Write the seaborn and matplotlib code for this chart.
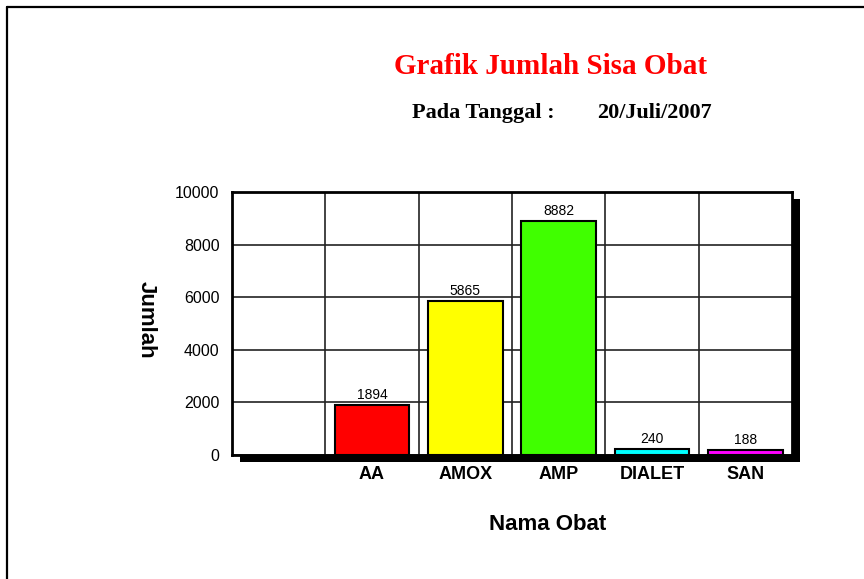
import numpy as np
import pandas as pd
import seaborn as sns
import matplotlib.pyplot as plt
from matplotlib.patches import Rectangle
from matplotlib.lines import Line2D

# data
obat = [" ", "AA", "AMOX", "AMP", "DIALET", "SAN"]
jumlah = [0, 1894, 5865, 8882, 240, 188]
warna = ["#ffffff", "#ff0000", "#ffff00", "#40ff00", "#00ffff", "#ff00ff"]

sns.set_style("white")
plt.rcParams['font.family'] = ['Liberation Sans', 'DejaVu Sans']
plt.rcParams['text.color'] = 'black'
plt.rcParams['xtick.color'] = 'black'
plt.rcParams['ytick.color'] = 'black'

W, H = 864, 579
fig = plt.figure(figsize=(W / 100, H / 100), dpi=100)
fig.patch.set_facecolor("white")

# axes box in pixels: left 232, right 792, top 192, bottom 455
ax = fig.add_axes([232 / W, 1 - 455 / H, (792 - 232) / W, (455 - 192) / H])
ax.set_facecolor("white")

# drop shadow behind the plot box
fig.add_artist(Rectangle(((232 + 8) / W, 1 - (455 + 7) / H), (792 - 232) / W, (455 - 192) / H,
                         transform=fig.transFigure, facecolor="black", edgecolor="none", zorder=-1))

df = pd.DataFrame({"obat": obat, "jumlah": jumlah})
sns.barplot(data=df, x="obat", y="jumlah", hue="obat", palette=warna, legend=False,
            saturation=1, width=0.8, edgecolor="black", linewidth=1.5, ax=ax, zorder=3)
# no bar for the empty slot
ax.patches[0].set_visible(False)

for i, v in enumerate(jumlah):
    if obat[i].strip():
        ax.text(i, v + 120, str(v), ha="center", va="bottom", fontsize=10, zorder=4)

ax.set_xlim(-0.5, len(obat) - 0.5)
ax.set_ylim(0, 10000)
ax.set_yticks(np.arange(0, 10001, 2000))
ax.set_xticks(np.arange(0.5, len(obat) - 1, 1), minor=True)
ax.grid(True, which="major", axis="y", color="#222222", lw=1.2, zorder=0)
ax.grid(True, which="minor", axis="x", color="#222222", lw=1.2, zorder=0)
ax.set_axisbelow(True)

ax.tick_params(axis="y", length=0, pad=9, labelsize=11.5)
ax.tick_params(axis="x", which="both", length=0, pad=8, labelsize=13)
for lab in ax.get_xticklabels():
    lab.set_fontweight("bold")
for s in ax.spines.values():
    s.set_color("black")
    s.set_linewidth(2)

ax.set_xlabel("")
ax.set_ylabel("")
fig.text(548 / W, 1 - 525 / H, "Nama Obat", ha="center", va="center", fontsize=16, fontweight="bold")
fig.text(146 / W, 1 - 320 / H, "Jumlah", ha="center", va="center", fontsize=16,
         fontweight="bold", rotation=270)

# titles
fig.text(550 / W, 1 - 66 / H, "Grafik Jumlah Sisa Obat", ha="center", va="center",
         fontsize=21, fontweight="bold", color="#ff0000", family="Liberation Serif")
fig.text(412 / W, 1 - 113 / H, "Pada Tanggal :", ha="left", va="center",
         fontsize=16, fontweight="bold", family="Liberation Serif")
fig.text(597 / W, 1 - 113 / H, "20/Juli/2007", ha="left", va="center",
         fontsize=16, fontweight="bold", family="Liberation Serif")

# page frame (top and left edges)
fig.add_artist(Line2D([7 / W, 1], [1 - 7 / H, 1 - 7 / H], transform=fig.transFigure, color="black", lw=1.6))
fig.add_artist(Line2D([7 / W, 7 / W], [0, 1 - 7 / H], transform=fig.transFigure, color="black", lw=1.6))

fig.savefig("out.png", dpi=100)
